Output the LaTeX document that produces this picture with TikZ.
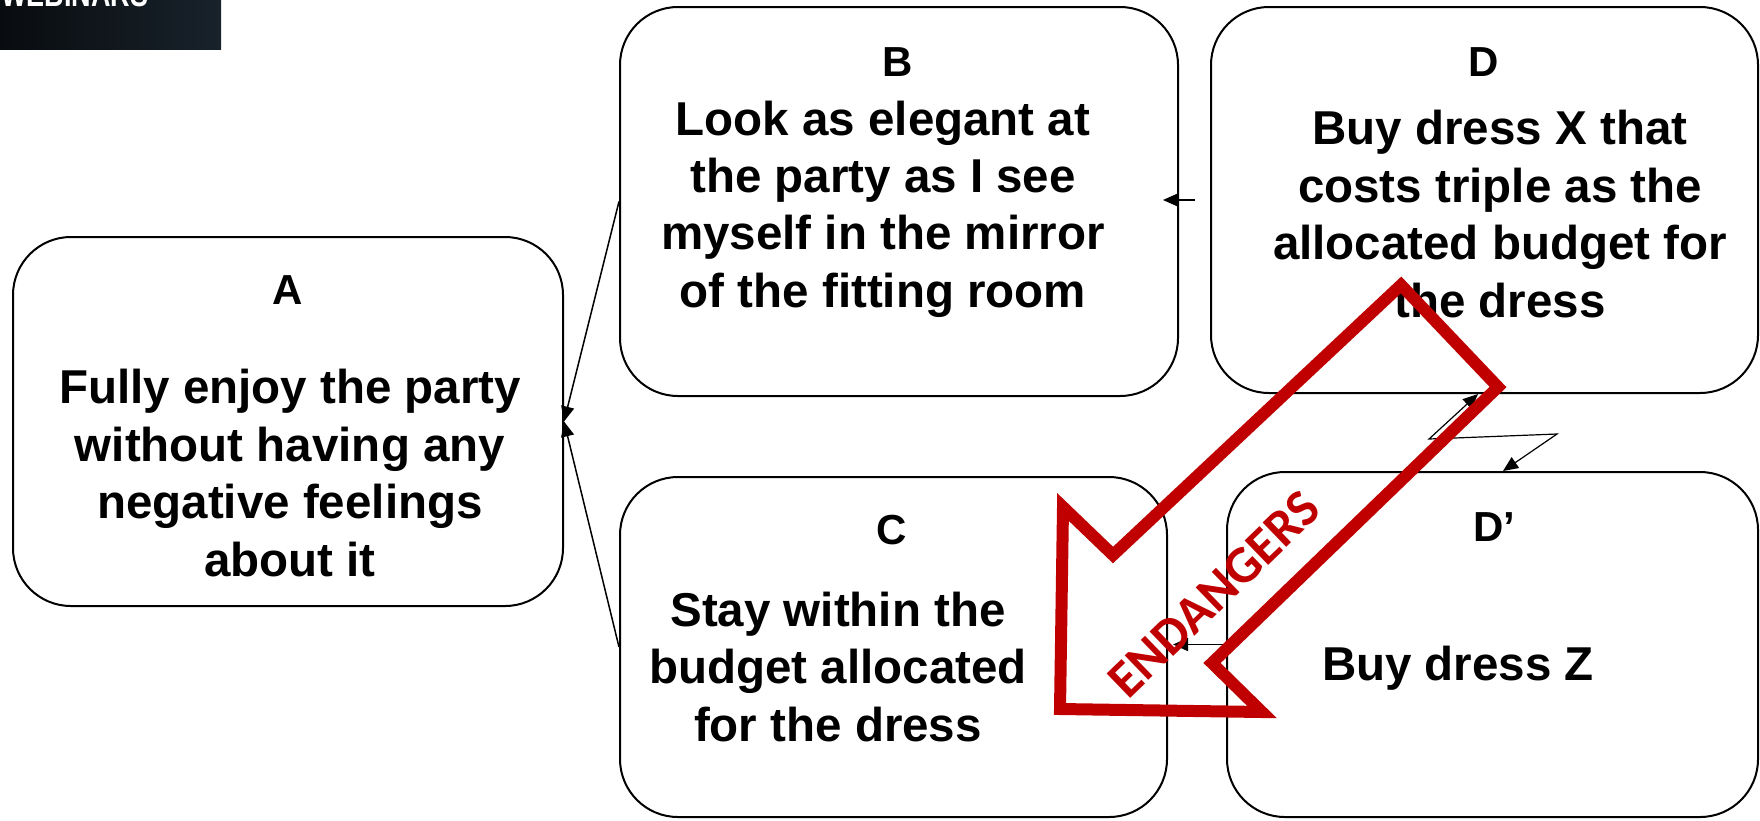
\documentclass[tikz,border=0pt]{standalone}
\usepackage{fontspec}
\setmainfont{Liberation Sans}
\newfontfamily\carlito{Carlito}
\usetikzlibrary{arrows.meta}
\definecolor{alarmred}{HTML}{C00000}
\definecolor{logoL}{HTML}{090C0F}
\definecolor{logoR}{HTML}{18222B}
\tikzset{
  cloudbox/.style={draw, thick, line width=1pt, rounded corners=29pt, inner sep=0pt},
  tag/.style={inner sep=0pt, font=\bfseries\fontsize{21}{25}\selectfont},
  body/.style={inner sep=0pt, align=center, font=\bfseries\fontsize{23.75}{28.7}\selectfont},
  tip/.style={-{Triangle[length=7.5pt,width=6.5pt]}}
}
\begin{document}
\begin{tikzpicture}[x=0.5pt, y=-0.5pt]
            \useasboundingbox (0,0) rectangle (1760,820);
            % logo corner
            \begin{scope}
                \clip (0,0) rectangle (221,49);
                \fill[left color=logoL, right color=logoR] (0,0) rectangle (221,49);
                \node[anchor=base west, inner sep=0pt, text=white, xscale=0.75,
                      font=\bfseries\fontsize{18}{20}\selectfont] (logo) at (1,6) {WEBINARS};
            \end{scope}

            \begin{scope}[every node/.style = {cloudbox}]
                \node[minimum width=275pt, minimum height=184.5pt] (A) at (288,421.5) {};
                \node[minimum width=279pt, minimum height=194.5pt] (B) at (899,201.5) {};
                \node[minimum width=273.5pt, minimum height=193pt] (D) at (1484.5,200) {};
                \node[minimum width=273.5pt, minimum height=170pt] (C) at (893.5,647) {};
                \node[minimum width=265.5pt, minimum height=172.5pt] (Dp) at (1492.5,644.5) {};
            \end{scope}

            \node[tag] (Atag) at (288,290) {A};
            \node[tag] (Btag) at (898,62) {B};
            \node[tag] (Dtag) at (1484,62) {D};
            \node[tag] (Ctag) at (892,530) {C};
            \node[tag] (Dptag) at (1494,527) {D’};

            \node[body] (Atext) at (290,473) {Fully enjoy the party\\without having any\\negative feelings\\about it};
            \node[body] (Btext) at (883,209) {Look as elegant at\\the party as I see\\myself in the mirror\\of the fitting room};
            \node[body] (Dtext) at (1500,214) {Buy dress X that\\costs triple as the\\allocated budget for\\the dress};
            \node[body] (Ctext) at (838,667) {Stay within the\\budget allocated\\for the dress};
            \node[body] (Dptext) at (1458,668) {Buy dress Z};

            \coordinate (dbfrom) at (1195,200);
            \coordinate (dbto) at (1163,200);
            \coordinate (zzD) at (1478,394);
            \coordinate (zzA) at (1429,439);
            \coordinate (zzB) at (1557,434);
            \coordinate (zzDp) at (1503,471);

            \begin{scope}[every edge/.style = {tip, draw, line width=0.75pt}]
                \path(B.west) edge[] (A.east);
                \path(C.west) edge[] (A.east);
                \path(dbfrom) edge[] (dbto);
                \path(Dp.west) edge[shorten >=2.5pt] (C.east |- Dp.west);
            \end{scope}
            \draw[line width=0.6pt, {Triangle[length=7.5pt,width=6.5pt]}-{Triangle[length=7.5pt,width=6.5pt]}]
                (zzD) -- (zzA) -- (zzB) -- (zzDp);

            % big warning arrow
            \draw[alarmred, line width=6pt, line join=miter]
                (1401,285) -- (1498,387) -- (1212,663) -- (1262,712) -- (1060,709)
                -- (1063,507) -- (1113,555) -- cycle;
            \node[text=alarmred, inner sep=0pt, rotate=44,
                  font=\carlito\bfseries\fontsize{26.2}{30}\selectfont] (risk) at (1214,594) {ENDANGERS};
\end{tikzpicture}
\end{document}
